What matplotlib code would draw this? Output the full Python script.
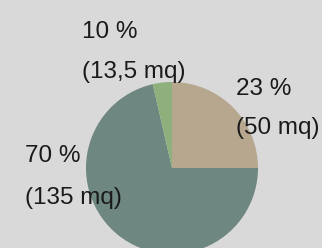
import matplotlib
matplotlib.use("Agg")
import matplotlib.pyplot as plt

# wedge shares (clockwise from the top)
shares = [25, 71.4, 3.6]
colors = ["#b8a78f", "#6e8780", "#8db07c"]
pct_labels = ["23 %", "70 %", "10 %"]
area_labels = ["(50 mq)", "(135 mq)", "(13,5 mq)"]
# label anchor (left x, baseline of first line, baseline of second line) in pixels from top-left
label_pos = [(236, 95, 134), (25, 162, 204), (82, 38, 78)]

W, H = 322, 248
fig = plt.figure(figsize=(W / 100, H / 100), dpi=100)
fig.patch.set_facecolor("#d9d9d9")
ax = fig.add_axes([0, 0, 1, 1])
ax.set_facecolor("#d9d9d9")

ax.pie(shares, colors=colors, startangle=90, counterclock=False,
       center=(172, H - 168), radius=86, frame=True,
       wedgeprops=dict(linewidth=0))
ax.set_xlim(0, W)
ax.set_ylim(0, H)
ax.set_aspect("equal")
ax.axis("off")

font = dict(family=["Liberation Sans", "DejaVu Sans"], fontsize=17.5, color="#1a1a1a")
for pct, area, (x, y1, y2) in zip(pct_labels, area_labels, label_pos):
    ax.text(x, H - y1, pct, ha="left", va="baseline", **font)
    ax.text(x, H - y2, area, ha="left", va="baseline", **font)

fig.savefig("out.png", dpi=100, facecolor=fig.get_facecolor())
